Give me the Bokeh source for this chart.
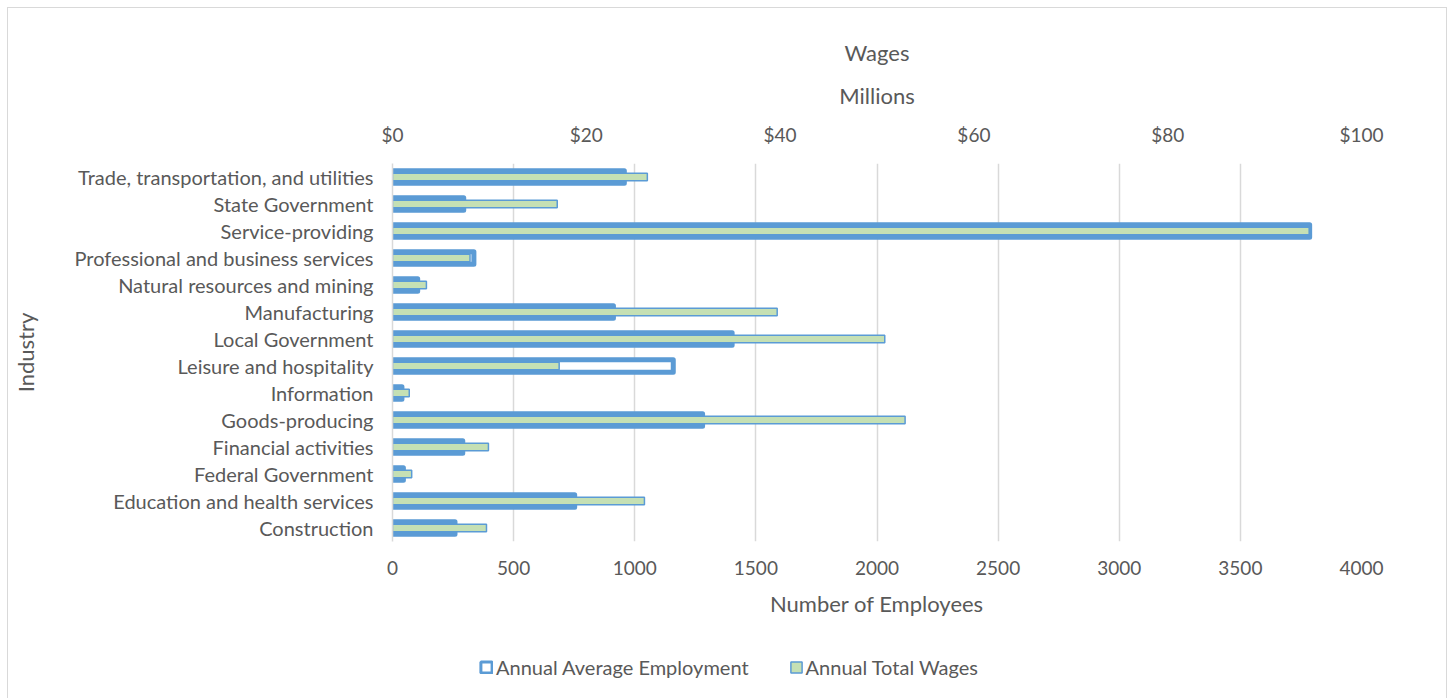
from bokeh.plotting import figure
from bokeh.layouts import column
from bokeh.models import (Range1d, FactorRange, LinearAxis, Legend, LegendItem,
                          NumeralTickFormatter, FixedTicker)
from bokeh.embed import file_html
from bokeh.resources import INLINE

# Data (bottom to top)
industries = [
    "Construction",
    "Education and health services",
    "Federal Government",
    "Financial activities",
    "Goods-producing",
    "Information",
    "Leisure and hospitality",
    "Local Government",
    "Manufacturing",
    "Natural resources and mining",
    "Professional and business services",
    "Service-providing",
    "State Government",
    "Trade, transportation, and utilities",
]
employment = [258, 752, 45, 290, 1280, 39, 1159, 1402, 912, 104, 336, 3786, 294, 957]
wages_millions = [9.7, 26.0, 1.98, 9.9, 52.9, 1.73, 17.2, 50.8, 39.7, 3.5, 8.0, 94.6, 17.0, 26.3]

emp_ticks = [0, 500, 1000, 1500, 2000, 2500, 3000, 3500, 4000]
wage_ticks = [0, 20, 40, 60, 80, 100]
series_names = ["Annual Average Employment", "Annual Total Wages"]

BLUE = "#5B9BD5"
GREEN = "#C5E0B4"
TXT = "#595959"
FONT = "Lato"

p = figure(
    frame_width=969, frame_height=378,
    y_range=FactorRange(factors=industries, range_padding=0),
    x_range=Range1d(0, 4000),
    output_backend="svg", toolbar_location=None,
    min_border_left=384, min_border_right=85,
    min_border_top=155, min_border_bottom=95,
)
p.extra_x_ranges = {"wages": Range1d(0, 100)}

r_emp = p.hbar(y=industries, right=employment, height=0.47, left=0,
               fill_color="white", line_color=BLUE, line_width=5, line_join="round")
r_wag = p.hbar(y=industries, right=wages_millions, height=0.28, left=0,
               x_range_name="wages", fill_color=GREEN, line_color=BLUE, line_width=1.5)

p.outline_line_color = None
p.background_fill_color = "white"
p.border_fill_color = "white"

# grid
p.ygrid.grid_line_color = None
p.xgrid.grid_line_color = "#D9D9D9"
p.xgrid.grid_line_width = 1.5
p.xgrid.ticker = FixedTicker(ticks=emp_ticks)

# bottom axis
xa = p.xaxis[0]
xa.ticker = FixedTicker(ticks=emp_ticks)
xa.axis_label = "Number of Employees"
xa.axis_line_color = None
xa.major_tick_line_color = None
xa.minor_tick_line_color = None
xa.major_label_standoff = 13
xa.axis_label_standoff = 12

# top axis
top = LinearAxis(x_range_name="wages", ticker=FixedTicker(ticks=wage_ticks),
                 formatter=NumeralTickFormatter(format="$0"),
                 axis_label="Millions")
top.axis_line_color = None
top.major_tick_line_color = None
top.minor_tick_line_color = None
top.major_label_standoff = 12
top.axis_label_standoff = 11
p.add_layout(top, "above")

# left axis
ya = p.yaxis[0]
ya.axis_label = "Industry"
ya.axis_line_color = "#D9D9D9"
ya.axis_line_width = 1.5
ya.major_tick_line_color = None
ya.minor_tick_line_color = None
ya.major_label_standoff = 13
ya.axis_label_standoff = 32

for ax in (xa, top, ya):
    ax.major_label_text_font = FONT
    ax.major_label_text_font_size = "19px"
    ax.major_label_text_color = TXT
    ax.axis_label_text_font = FONT
    ax.axis_label_text_font_size = "22px"
    ax.axis_label_text_font_style = "normal"
    ax.axis_label_text_color = TXT
ya.major_label_text_font_size = "20px"

p.title.text = "Wages"
p.title.align = "center"
p.title.text_font = FONT
p.title.text_font_size = "22px"
p.title.text_font_style = "normal"
p.title.text_color = TXT
p.title.standoff = 25

# legend strip below the chart (its renderers are hidden; only legend glyphs show)
lf = figure(width=1438, height=62, x_range=Range1d(-2, -1),
            y_range=FactorRange(factors=industries),
            output_backend="svg", toolbar_location=None, min_border=0)
lf.axis.visible = False
lf.grid.visible = False
lf.outline_line_color = None
lf.background_fill_color = "white"
lf.border_fill_color = "white"
l_emp = lf.hbar(y=industries, right=employment, left=0, height=0.5,
                fill_color="white", line_color=BLUE, line_width=3)
l_wag = lf.hbar(y=industries, right=wages_millions, left=0, height=0.5,
                fill_color=GREEN, line_color=BLUE, line_width=1.5)
l_emp.visible = False
l_wag.visible = False

legend = Legend(
    items=[LegendItem(label=series_names[0], renderers=[l_emp]),
           LegendItem(label=series_names[1], renderers=[l_wag])],
    orientation="horizontal", location=(87, 19),
    label_text_font=FONT, label_text_font_size="20px", label_text_color=TXT,
    glyph_width=14, glyph_height=14, spacing=40, label_standoff=3,
    padding=0, margin=0,
    border_line_color=None, background_fill_alpha=0,
)
lf.add_layout(legend, "center")

layout = column(p, lf, spacing=0)
layout.styles = {"border": "1px solid #D9D9D9", "margin": "7px 0 0 7px"}

open("out.html", "w").write(file_html(layout, INLINE))
